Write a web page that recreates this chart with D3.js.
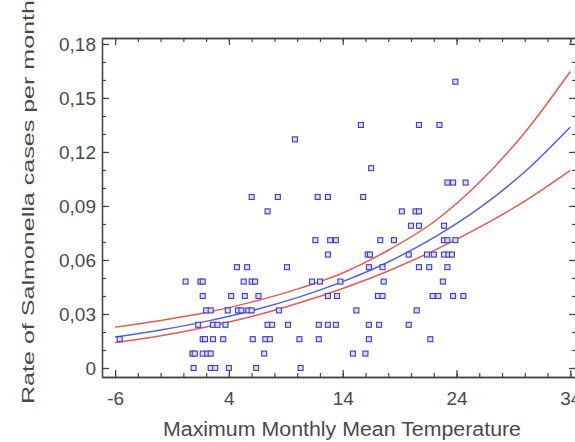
<!DOCTYPE html>
<html>
<head>
<meta charset="utf-8">
<script src="https://cdn.jsdelivr.net/npm/d3@7/dist/d3.min.js"></script>
<style>
body { margin: 0; background: #fff; }
</style>
</head>
<body>
<div id="chart"></div>
<script>
// scatter: temperature (x) and rate (y), one row per rate level
var tempVals = [
    0.9, 2.4, 2.8, 4.0, 6.4, 10.3,
    0.8, 1.0, 1.7, 2.1, 2.4, 7.1, 14.9, 16.0,
    -5.6, 1.7, 1.9, 2.6, 3.5, 6.1, 7.2, 7.6, 10.2, 11.9, 16.3, 21.7,
    1.3, 2.6, 3.0, 3.7, 7.4, 7.8, 9.2, 11.9, 12.7, 13.4, 16.3, 17.2, 19.8,
    2.0, 2.4, 3.9, 4.8, 5.1, 5.7, 6.0, 8.4, 15.2, 20.5,
    1.7, 4.2, 5.4, 6.6, 12.7, 13.5, 17.1, 17.5, 21.9, 22.4, 23.7, 24.6,
    0.2, 1.5, 1.7, 5.3, 6.0, 6.3, 11.3, 12.0, 13.8, 17.6, 22.8,
    4.7, 5.6, 9.1, 16.3, 17.5, 20.7, 21.6, 23.2,
    12.7, 16.2, 16.4, 19.8, 21.4, 22.0, 22.9, 23.3, 23.6,
    11.6, 12.9, 13.4, 17.3, 18.5, 22.9, 23.2, 23.9,
    20.0, 20.7, 22.9,
    7.4, 19.2, 20.4, 20.7,
    6.0, 8.3, 11.8, 12.7, 15.8,
    23.2, 23.7, 24.8,
    16.5,
    9.8,
    15.6, 20.7, 22.5,
    23.9
];
var rateVals = [
    0, 0, 0, 0, 0, 0,
    0.008, 0.008, 0.008, 0.008, 0.008, 0.008, 0.008, 0.008,
    0.016, 0.016, 0.016, 0.016, 0.016, 0.016, 0.016, 0.016, 0.016, 0.016, 0.016, 0.016,
    0.024, 0.024, 0.024, 0.024, 0.024, 0.024, 0.024, 0.024, 0.024, 0.024, 0.024, 0.024, 0.024,
    0.032, 0.032, 0.032, 0.032, 0.032, 0.032, 0.032, 0.032, 0.032, 0.032,
    0.040, 0.040, 0.040, 0.040, 0.040, 0.040, 0.040, 0.040, 0.040, 0.040, 0.040, 0.040,
    0.048, 0.048, 0.048, 0.048, 0.048, 0.048, 0.048, 0.048, 0.048, 0.048, 0.048,
    0.056, 0.056, 0.056, 0.056, 0.056, 0.056, 0.056, 0.056,
    0.063, 0.063, 0.063, 0.063, 0.063, 0.063, 0.063, 0.063, 0.063,
    0.071, 0.071, 0.071, 0.071, 0.071, 0.071, 0.071, 0.071,
    0.079, 0.079, 0.079,
    0.087, 0.087, 0.087, 0.087,
    0.095, 0.095, 0.095, 0.095, 0.095,
    0.103, 0.103, 0.103,
    0.111,
    0.127,
    0.135, 0.135, 0.135,
    0.159
];

var curveTemps = [-6, -2, 2, 6, 10, 14, 18, 22, 26, 30, 34];
var fitVals   = [0.0172, 0.0211, 0.0259, 0.0318, 0.0391, 0.0480, 0.0589, 0.0724, 0.0888, 0.1090, 0.1339];
var upperVals = [0.0227, 0.0264, 0.0308, 0.0366, 0.0438, 0.0528, 0.0654, 0.0811, 0.1030, 0.1308, 0.1647];
var lowerVals = [0.0141, 0.0179, 0.0228, 0.0286, 0.0358, 0.0442, 0.0539, 0.0652, 0.0781, 0.0927, 0.1098];

var xTickVals = [-6, 4, 14, 24, 34];
var xTickLabels = ["-6", "4", "14", "24", "34"];
var yTickVals = [0, 0.03, 0.06, 0.09, 0.12, 0.15, 0.18];
var yTickLabels = ["0", "0,03", "0,06", "0,09", "0,12", "0,15", "0,18"];

var outerWidth = 575;
var outerHeight = 442;
var margin = { left: 102, top: 38, right: -1, bottom: 65 };
var innerWidth  = outerWidth  - margin.left - margin.right;
var innerHeight = outerHeight - margin.top  - margin.bottom;

var svg = d3.select('#chart').append('svg')
    .attr('width', outerWidth)
    .attr('height', outerHeight)
    .style('font-family', '"Liberation Sans", Arial, sans-serif');

var g = svg.append('g')
    .attr('transform', 'translate(' + margin.left + ',' + margin.top + ')');

var xScale = d3.scaleLinear().domain([-7.15, 34.5]).range([0, innerWidth]);
var yScale = d3.scaleLinear().domain([-0.005, 0.1833]).range([innerHeight, 0]);

var axisColor = '#444';
var textColor = '#4a4a4a';

// minor ticks, every 2 degrees and every 0.01
var xMinor = d3.range(-6, 35, 2);
var yMinor = d3.range(0, 0.185, 0.01);

function drawAxis(axis, tr) {
    var a = g.append('g').attr('transform', tr).call(axis);
    a.select('.domain').attr('stroke', axisColor).attr('stroke-width', 1.3);
    a.selectAll('.tick line').attr('stroke', axisColor).attr('stroke-width', 1.2);
    return a;
}

// bottom
drawAxis(d3.axisBottom(xScale).tickValues(xMinor).tickSizeInner(-4).tickSizeOuter(0).tickFormat(''),
    'translate(0,' + innerHeight + ')');
var xAxisG = drawAxis(d3.axisBottom(xScale).tickValues(xTickVals).tickSizeInner(-7).tickSizeOuter(0)
    .tickPadding(15)
    .tickFormat(function (d, i) { return xTickLabels[i]; }),
    'translate(0,' + innerHeight + ')');
// top
drawAxis(d3.axisTop(xScale).tickValues(xMinor).tickSizeInner(-4).tickSizeOuter(0).tickFormat(''), 'translate(0,0)');
drawAxis(d3.axisTop(xScale).tickValues(xTickVals).tickSizeInner(-7).tickSizeOuter(0).tickFormat(''), 'translate(0,0)');
// left
drawAxis(d3.axisLeft(yScale).tickValues(yMinor).tickSizeInner(-4).tickSizeOuter(0).tickFormat(''), 'translate(0,0)');
var yAxisG = drawAxis(d3.axisLeft(yScale).tickValues(yTickVals).tickSizeInner(-7).tickSizeOuter(0)
    .tickPadding(6)
    .tickFormat(function (d, i) { return yTickLabels[i]; }), 'translate(0,0)');
// right
drawAxis(d3.axisRight(yScale).tickValues(yMinor).tickSizeInner(-4).tickSizeOuter(0).tickFormat(''),
    'translate(' + innerWidth + ',0)');
drawAxis(d3.axisRight(yScale).tickValues(yTickVals).tickSizeInner(-7).tickSizeOuter(0).tickFormat(''),
    'translate(' + innerWidth + ',0)');

xAxisG.selectAll('text').attr('font-size', 19).attr('fill', textColor).attr('font-family', null);
yAxisG.selectAll('text').attr('font-size', 19).attr('fill', textColor).attr('font-family', null);

// axis titles
svg.append('text')
    .attr('x', 342)
    .attr('y', 436)
    .attr('text-anchor', 'middle')
    .attr('font-size', 20)
    .attr('fill', textColor)
    .attr('textLength', 358)
    .attr('lengthAdjust', 'spacingAndGlyphs')
    .text('Maximum Monthly Mean Temperature');

svg.append('text')
    .attr('transform', 'translate(34,' + 202 + ') rotate(-90)')
    .attr('text-anchor', 'middle')
    .attr('font-size', 17)
    .attr('fill', textColor)
    .attr('textLength', 404)
    .attr('lengthAdjust', 'spacingAndGlyphs')
    .text('Rate of Salmonella cases per month');

// curves
var line = d3.line()
    .x(function (d) { return xScale(d.t); })
    .y(function (d) { return yScale(d.v); })
    .curve(d3.curveMonotoneX);

function series(vals) {
    return curveTemps.map(function (t, i) { return { t: t, v: vals[i] }; });
}

g.append('path').attr('d', line(series(upperVals)))
    .attr('fill', 'none').attr('stroke', '#e65a55').attr('stroke-width', 1.5);
g.append('path').attr('d', line(series(lowerVals)))
    .attr('fill', 'none').attr('stroke', '#e65a55').attr('stroke-width', 1.5);
g.append('path').attr('d', line(series(fitVals)))
    .attr('fill', 'none').attr('stroke', '#5262dc').attr('stroke-width', 1.5);

// points
var points = tempVals.map(function (t, i) { return { t: t, r: rateVals[i] }; });
g.append('g').selectAll('rect')
    .data(points)
    .enter()
    .append('rect')
    .attr('x', function (d) { return xScale(d.t) - 2.5; })
    .attr('y', function (d) { return yScale(d.r) - 2.5; })
    .attr('width', 5)
    .attr('height', 5)
    .attr('fill', '#dcdcf6')
    .attr('stroke', '#3c3ccc')
    .attr('stroke-width', 1.1);
</script>
</body>
</html>
